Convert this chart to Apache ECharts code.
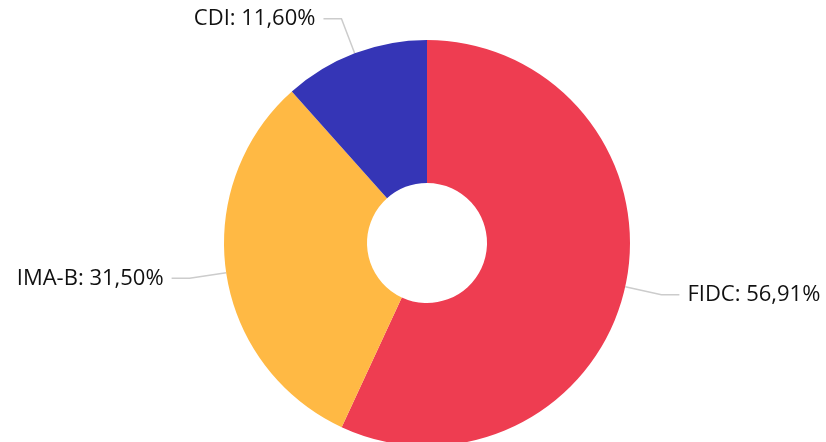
<!DOCTYPE html>
<html>
<head>
<meta charset="utf-8">
<script src="https://cdn.jsdelivr.net/npm/echarts@6/dist/echarts.min.js"></script>
<style>
html,body{margin:0;padding:0;background:#fff;}
#chart{width:826px;height:442px;}
</style>
</head>
<body>
<div id="chart"></div>
<script>
const categories = ["FIDC", "IMA-B", "CDI"];
const values = [56.91, 31.50, 11.60];
const colors = ["#ee3d51", "#ffb944", "#3535b6"];

const chart = echarts.init(document.getElementById('chart'), null, {renderer: 'canvas'});
chart.setOption({
  animation: false,
  backgroundColor: '#ffffff',
  series: [{
    type: 'pie',
    center: [427, 243],
    radius: [60, 203],
    startAngle: 90,
    clockwise: true,
    avoidLabelOverlap: false,
    data: categories.map((c, i) => ({name: c, value: values[i], itemStyle: {color: colors[i]}})),
    label: {
      show: true,
      formatter: p => p.name + ': ' + p.value.toFixed(2).replace('.', ',') + '%',
      fontFamily: 'Open Sans',
      fontSize: 22,
      color: '#111111',
      distanceToLabelLine: 8
    },
    labelLine: {
      show: true,
      length: 37,
      length2: 18,
      lineStyle: {color: '#cccccc', width: 1.5}
    },
    emphasis: {disabled: true}
  }]
});
</script>
</body>
</html>
